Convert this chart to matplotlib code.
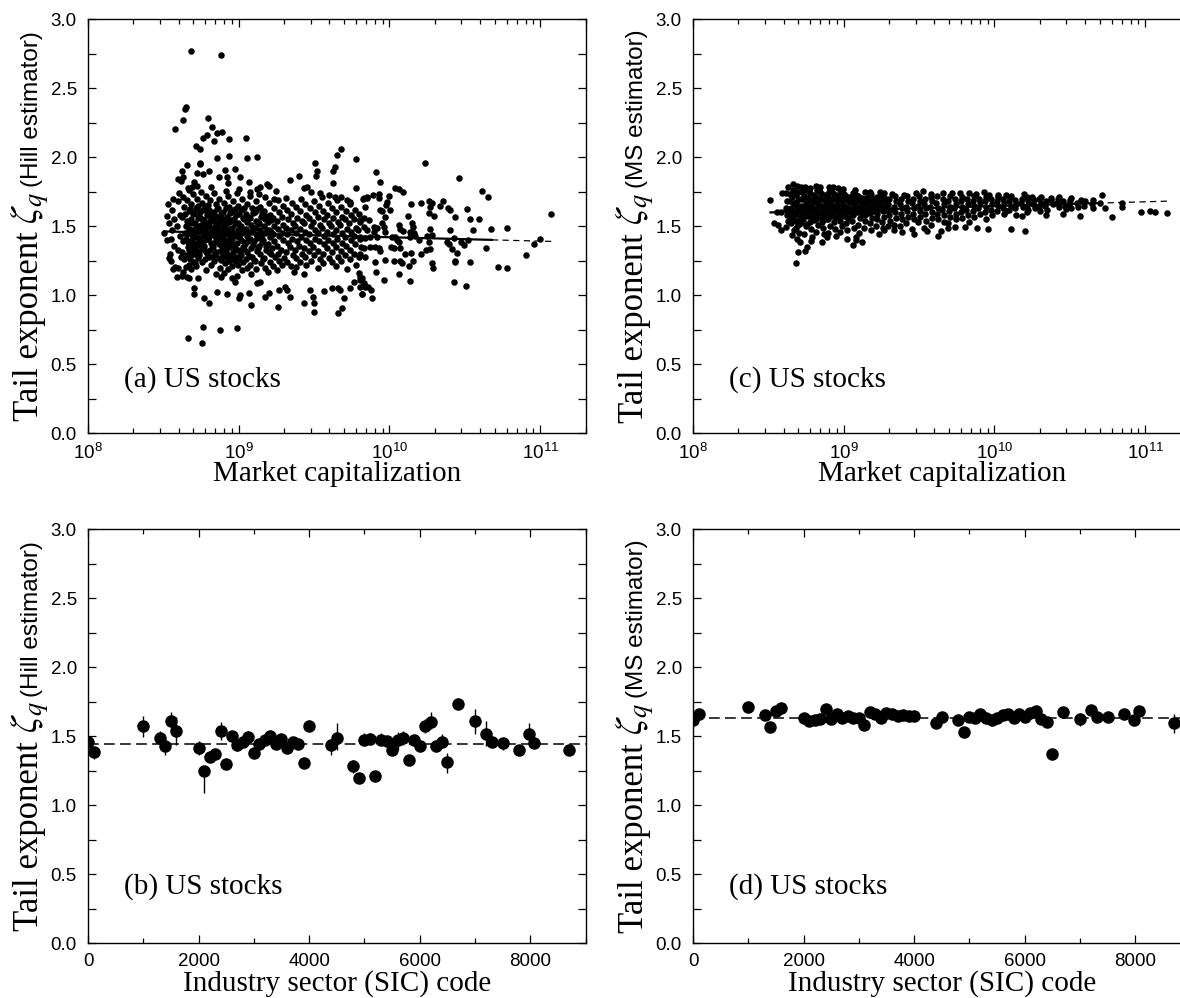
import matplotlib
matplotlib.use('Agg')
import matplotlib.pyplot as plt
import numpy as np
from matplotlib.ticker import MultipleLocator, LogLocator, NullFormatter, FormatStrFormatter

plt.rcParams['font.family'] = ['Liberation Sans', 'DejaVu Sans']
plt.rcParams['mathtext.fontset'] = 'stix'

# ---------------- data ----------------
# (a) Hill tail exponent per stock, x given as log10(market capitalization)
log_cap_hill = [
    # sparse upper points
    8.682, 8.883, 8.649, 8.642, 8.627, 8.578, 8.797, 8.824, 8.766, 8.788,
    8.839, 8.855, 8.888, 8.937, 9.049, 8.717, 8.740, 8.857, 8.934, 9.054,
    9.120, 8.740, 8.744, 8.660, 8.622, 8.600, 8.616, 8.633, 8.722, 8.766,
    8.800, 8.866, 8.910, 8.921, 8.972, 8.932, 9.010, 8.999, 9.067, 8.700,
    8.693, 8.722, 8.673, 8.815, 8.917, 9.076, 9.120, 9.142, 9.136, 9.187,
    9.204, 9.249, 9.235, 9.315, 9.341, 9.401, 9.430, 9.452, 9.479, 9.508,
    9.519, 9.514, 9.627, 9.636, 9.649, 9.680, 9.625, 9.541, 9.552, 9.600,
    9.640, 9.678, 9.718, 9.780, 9.778, 9.740, 9.829, 9.851, 8.523, 8.507,
    # sparse lower points
    8.549, 8.578, 8.589, 8.622, 8.649, 8.655, 8.673, 8.733, 8.706, 8.706,
    8.770, 8.801, 8.855, 8.921, 8.881, 8.954, 8.976, 9.010, 9.005, 9.069,
    9.083, 9.120, 9.142, 9.176, 9.198, 9.264, 9.260, 9.308, 9.319, 9.341,
    9.368, 9.381, 9.434, 9.430, 9.474, 9.490, 9.501, 9.497, 9.563, 9.618,
    9.656, 9.669, 9.656, 9.685, 9.696, 9.740, 9.766, 9.795, 9.806, 9.817,
    9.829, 9.855, 8.762, 8.879, 8.987, 8.666, 8.755,
    # large caps
    10.233, 10.461, 9.910, 9.937, 10.616, 10.651, 10.038, 10.065, 10.092, 9.890,
    9.928, 9.928, 9.850, 9.824, 10.000, 9.983, 9.979, 10.142, 10.209, 10.260,
    10.282, 10.271, 10.333, 10.353, 10.388, 10.399, 10.514, 9.841, 9.939, 9.950,
    9.972, 10.001, 10.122, 10.264, 10.297, 10.437, 10.536, 10.592, 9.833, 9.806,
    9.866, 9.828, 9.895, 9.917, 9.950, 9.961, 10.061, 10.072, 10.090, 10.149,
    10.156, 10.138, 10.160, 10.271, 10.404, 10.554, 10.674, 10.780, 9.850, 9.895,
    9.972, 9.872, 9.917, 9.806, 9.839, 10.016, 10.038, 10.049, 10.065, 10.134,
    10.171, 10.193, 10.249, 10.284, 10.260, 10.381, 10.393, 10.430, 10.477, 10.492,
    10.519, 11.001, 10.961, 10.908, 10.640, 9.828, 9.872, 9.906, 9.934, 9.939,
    9.806, 9.839, 10.010, 10.032, 10.072, 10.105, 10.142, 10.209, 10.244, 10.266,
    10.415, 10.448, 9.906, 9.968, 10.027, 10.072, 10.085, 10.127, 10.156, 10.282,
    10.288, 10.432, 10.437, 10.532, 10.720, 10.782, 9.910, 10.061, 10.138, 9.965,
    10.430, 10.510, 9.806, 9.817, 9.828, 9.806, 9.839, 9.879, 9.817, 9.886, 11.074,
    # dense core
    8.531, 8.538, 8.527, 8.542, 8.534,
    8.562, 8.555, 8.568, 8.559, 8.571, 8.553, 8.565,
    8.603, 8.596, 8.611, 8.592, 8.607, 8.599, 8.614, 8.594,
    8.628, 8.636, 8.624, 8.641, 8.632, 8.626, 8.639, 8.631,
    8.662, 8.655, 8.668, 8.659, 8.671, 8.653, 8.664, 8.657, 8.669,
    8.694, 8.686, 8.699, 8.683, 8.691, 8.697, 8.688, 8.702, 8.685,
    8.721, 8.714, 8.727, 8.718, 8.731, 8.712, 8.724, 8.716, 8.729, 8.719,
    8.748, 8.756, 8.743, 8.759, 8.751, 8.741, 8.762, 8.746, 8.754, 8.739, 8.758,
    8.781, 8.774, 8.787, 8.772, 8.784, 8.777, 8.789, 8.771, 8.783, 8.776, 8.786,
    8.812, 8.804, 8.817, 8.808, 8.802, 8.815, 8.806, 8.819, 8.809, 8.801, 8.814,
    8.838, 8.846, 8.834, 8.843, 8.849, 8.836, 8.841, 8.847, 8.832, 8.844, 8.839, 8.848,
    8.872, 8.865, 8.877, 8.868, 8.874, 8.863, 8.879, 8.869, 8.876, 8.866, 8.873,
    8.903, 8.896, 8.908, 8.899, 8.905, 8.894, 8.909, 8.901, 8.897, 8.906, 8.902,
    8.928, 8.936, 8.924, 8.933, 8.939, 8.926, 8.931, 8.937, 8.925, 8.934, 8.929,
    8.962, 8.955, 8.967, 8.958, 8.964, 8.953, 8.968, 8.959, 8.965, 8.956,
    8.988, 8.996, 8.984, 8.993, 8.998, 8.986, 8.991, 8.997, 8.983, 8.994, 8.989,
    9.021, 9.014, 9.027, 9.018, 9.024, 9.013, 9.028, 9.016, 9.025, 9.019,
    9.052, 9.045, 9.057, 9.048, 9.054, 9.043, 9.058, 9.046, 9.055,
    9.078, 9.086, 9.074, 9.083, 9.088, 9.076, 9.081, 9.087, 9.073, 9.084,
    9.112, 9.105, 9.117, 9.108, 9.114, 9.103, 9.118, 9.107, 9.115,
    9.138, 9.146, 9.134, 9.143, 9.148, 9.136, 9.141, 9.147,
    9.172, 9.165, 9.177, 9.168, 9.174, 9.163, 9.178, 9.166, 9.175,
    9.198, 9.206, 9.194, 9.203, 9.208, 9.196, 9.201, 9.207, 9.193,
    9.232, 9.225, 9.237, 9.228, 9.234, 9.223, 9.238, 9.226,
    9.258, 9.266, 9.254, 9.263, 9.268, 9.256, 9.261, 9.267, 9.253,
    9.292, 9.285, 9.297, 9.288, 9.294, 9.283, 9.298, 9.286,
    9.318, 9.326, 9.314, 9.323, 9.328, 9.316, 9.321,
    9.352, 9.345, 9.357, 9.348, 9.354, 9.343, 9.358, 9.346,
    9.378, 9.386, 9.374, 9.383, 9.388, 9.376, 9.381,
    9.412, 9.405, 9.417, 9.408, 9.414, 9.403, 9.418, 9.406,
    9.438, 9.446, 9.434, 9.443, 9.448, 9.436, 9.441, 9.447,
    9.472, 9.465, 9.477, 9.468, 9.474, 9.463, 9.478,
    9.498, 9.506, 9.494, 9.503, 9.508, 9.496, 9.501,
    9.532, 9.525, 9.537, 9.528, 9.534, 9.523, 9.538, 9.526,
    9.558, 9.566, 9.554, 9.563, 9.568, 9.556, 9.561,
    9.592, 9.585, 9.597, 9.588, 9.594, 9.583, 9.598,
    9.618, 9.626, 9.614, 9.623, 9.628, 9.616, 9.621,
    9.652, 9.645, 9.657, 9.648, 9.654, 9.643, 9.658, 9.646,
    9.678, 9.686, 9.674, 9.683, 9.688, 9.676, 9.681,
    9.712, 9.705, 9.717, 9.708, 9.714, 9.703, 9.718,
    9.738, 9.746, 9.734, 9.743, 9.748, 9.736, 9.741,
    9.772, 9.765, 9.777, 9.768, 9.774, 9.763, 9.778,
    9.798, 9.806, 9.794, 9.803, 9.808, 9.796,
    # densest part, in between the rows above
    8.646, 8.651, 8.658, 8.663, 8.667,
    8.677, 8.681, 8.689, 8.692, 8.696, 8.679,
    8.706, 8.709, 8.713, 8.717, 8.704, 8.711,
    8.733, 8.737, 8.744, 8.736, 8.747, 8.734,
    8.764, 8.768, 8.761, 8.767, 8.763, 8.769,
    8.793, 8.796, 8.791, 8.798, 8.794, 8.792,
    8.823, 8.826, 8.828, 8.822, 8.825, 8.829,
    8.853, 8.857, 8.859, 8.854, 8.856, 8.851,
    8.883, 8.886, 8.888, 8.884, 8.887, 8.882,
    8.914, 8.917, 8.912, 8.916, 8.918, 8.913,
    8.944, 8.947, 8.942, 8.948, 8.945,
    8.973, 8.977, 8.972, 8.978, 8.975,
    9.004, 9.007, 9.003, 9.008, 9.005,
    9.034, 9.036, 9.033, 9.038, 9.035,
    9.064, 9.067, 9.063, 9.068,
    9.094, 9.097, 9.093, 9.098,
    9.124, 9.127, 9.123, 9.128,
    9.154, 9.157, 9.153, 9.158,
    9.184, 9.187, 9.183,
    9.214, 9.217, 9.213,
]
zeta_hill = [
    2.772, 2.739, 2.361, 2.347, 2.270, 2.204, 2.282, 2.217, 2.142, 2.161,
    2.117, 2.173, 2.185, 2.129, 2.139, 2.081, 2.059, 1.992, 2.011, 1.994,
    1.999, 1.960, 1.948, 1.941, 1.897, 1.842, 1.825, 1.859, 1.888, 1.876,
    1.902, 1.854, 1.907, 1.859, 1.912, 1.810, 1.859, 1.767, 1.818, 1.823,
    1.786, 1.793, 1.762, 1.781, 1.757, 1.750, 1.769, 1.786, 1.733, 1.806,
    1.793, 1.755, 1.699, 1.704, 1.835, 1.864, 1.777, 1.786, 1.745, 1.960,
    1.900, 1.866, 1.900, 1.927, 2.016, 2.062, 1.815, 1.738, 1.714, 1.726,
    1.714, 1.714, 1.690, 1.989, 1.774, 1.677, 1.702, 1.714, 1.573, 1.453,
    1.407, 1.206, 1.129, 1.139, 1.201, 1.134, 1.122, 1.122, 1.054, 1.008,
    0.981, 0.945, 1.025, 1.005, 1.134, 1.122, 1.097, 1.001, 0.976, 1.013,
    0.930, 1.085, 1.097, 0.989, 1.013, 1.037, 0.911, 1.061, 1.037, 0.989,
    1.170, 1.206, 1.153, 0.940, 1.037, 0.989, 0.945, 0.875, 1.032, 1.054,
    1.054, 1.037, 0.868, 0.904, 0.976, 1.049, 1.093, 1.158, 1.110, 1.005,
    1.073, 1.061, 0.768, 0.747, 0.764, 0.689, 0.655,
    1.956, 1.852, 1.890, 1.818, 1.753, 1.709, 1.777, 1.770, 1.745, 1.724,
    1.731, 1.702, 1.704, 1.695, 1.719, 1.678, 1.653, 1.661, 1.668, 1.680,
    1.670, 1.637, 1.644, 1.682, 1.629, 1.617, 1.622, 1.641, 1.615, 1.610,
    1.569, 1.617, 1.576, 1.595, 1.571, 1.564, 1.554, 1.549, 1.562, 1.545,
    1.545, 1.496, 1.496, 1.484, 1.520, 1.496, 1.511, 1.479, 1.465, 1.520,
    1.496, 1.460, 1.448, 1.477, 1.474, 1.474, 1.479, 1.484, 1.472, 1.460,
    1.455, 1.424, 1.419, 1.419, 1.412, 1.419, 1.419, 1.400, 1.383, 1.419,
    1.429, 1.400, 1.429, 1.436, 1.387, 1.387, 1.368, 1.417, 1.387, 1.363,
    1.397, 1.404, 1.368, 1.291, 1.339, 1.339, 1.346, 1.346, 1.339, 1.322,
    1.298, 1.279, 1.351, 1.344, 1.339, 1.298, 1.305, 1.296, 1.327, 1.337,
    1.334, 1.303, 1.242, 1.255, 1.247, 1.245, 1.235, 1.213, 1.247, 1.230,
    1.199, 1.250, 1.240, 1.242, 1.204, 1.197, 1.168, 1.151, 1.105, 1.112,
    1.097, 1.066, 1.134, 1.122, 1.085, 1.061, 1.061, 1.037, 1.006, 0.981, 1.590,
    1.66, 1.52, 1.40, 1.30, 1.27,
    1.70, 1.62, 1.55, 1.47, 1.36, 1.25, 1.19,
    1.74, 1.68, 1.58, 1.50, 1.43, 1.33, 1.28, 1.20,
    1.71, 1.64, 1.57, 1.45, 1.39, 1.31, 1.26, 1.17,
    1.78, 1.69, 1.61, 1.54, 1.48, 1.41, 1.35, 1.29, 1.22,
    1.73, 1.66, 1.59, 1.52, 1.44, 1.37, 1.30, 1.24, 1.19,
    1.70, 1.63, 1.56, 1.50, 1.46, 1.42, 1.38, 1.33, 1.27, 1.21,
    1.75, 1.67, 1.60, 1.55, 1.51, 1.47, 1.43, 1.39, 1.34, 1.29, 1.24,
    1.72, 1.64, 1.58, 1.53, 1.49, 1.45, 1.41, 1.36, 1.31, 1.26, 1.18,
    1.69, 1.62, 1.57, 1.54, 1.50, 1.46, 1.42, 1.38, 1.33, 1.28, 1.22,
    1.74, 1.66, 1.59, 1.55, 1.51, 1.47, 1.43, 1.40, 1.35, 1.30, 1.25, 1.15,
    1.70, 1.63, 1.56, 1.52, 1.48, 1.44, 1.40, 1.37, 1.32, 1.27, 1.20,
    1.67, 1.60, 1.55, 1.50, 1.46, 1.42, 1.38, 1.34, 1.29, 1.23, 1.16,
    1.72, 1.64, 1.57, 1.53, 1.48, 1.44, 1.39, 1.35, 1.30, 1.25, 1.19,
    1.68, 1.61, 1.55, 1.49, 1.45, 1.41, 1.36, 1.31, 1.26, 1.21,
    1.74, 1.65, 1.58, 1.52, 1.47, 1.43, 1.38, 1.33, 1.28, 1.22, 1.14,
    1.70, 1.62, 1.56, 1.50, 1.45, 1.40, 1.35, 1.29, 1.24, 1.18,
    1.66, 1.59, 1.53, 1.48, 1.43, 1.37, 1.31, 1.26, 1.20,
    1.72, 1.63, 1.56, 1.51, 1.46, 1.41, 1.34, 1.28, 1.22, 1.15,
    1.68, 1.60, 1.54, 1.49, 1.44, 1.39, 1.32, 1.25, 1.19,
    1.64, 1.57, 1.52, 1.47, 1.42, 1.36, 1.30, 1.23,
    1.71, 1.61, 1.55, 1.50, 1.45, 1.40, 1.33, 1.27, 1.20,
    1.67, 1.58, 1.53, 1.47, 1.42, 1.37, 1.31, 1.24, 1.17,
    1.63, 1.56, 1.50, 1.44, 1.39, 1.34, 1.28, 1.21,
    1.69, 1.60, 1.54, 1.48, 1.43, 1.36, 1.30, 1.25, 1.18,
    1.65, 1.57, 1.51, 1.45, 1.40, 1.33, 1.27, 1.22,
    1.62, 1.55, 1.49, 1.44, 1.38, 1.31, 1.24,
    1.67, 1.59, 1.52, 1.47, 1.41, 1.35, 1.29, 1.21,
    1.64, 1.56, 1.50, 1.45, 1.39, 1.33, 1.27,
    1.70, 1.61, 1.54, 1.48, 1.42, 1.36, 1.30, 1.24,
    1.66, 1.58, 1.52, 1.46, 1.40, 1.34, 1.28, 1.22,
    1.63, 1.56, 1.50, 1.44, 1.38, 1.32, 1.25,
    1.68, 1.60, 1.53, 1.47, 1.41, 1.35, 1.29,
    1.65, 1.57, 1.51, 1.45, 1.39, 1.32, 1.26, 1.20,
    1.61, 1.55, 1.49, 1.43, 1.37, 1.30, 1.23,
    1.67, 1.58, 1.52, 1.46, 1.40, 1.34, 1.27,
    1.63, 1.56, 1.50, 1.44, 1.38, 1.31, 1.24,
    1.69, 1.60, 1.53, 1.47, 1.41, 1.35, 1.28, 1.21,
    1.64, 1.57, 1.51, 1.45, 1.38, 1.32, 1.25,
    1.61, 1.55, 1.48, 1.42, 1.36, 1.29, 1.19,
    1.66, 1.58, 1.52, 1.46, 1.40, 1.33, 1.26,
    1.62, 1.55, 1.49, 1.43, 1.37, 1.30, 1.22,
    1.59, 1.53, 1.47, 1.41, 1.35, 1.28,
    1.585, 1.505, 1.445, 1.385, 1.325,
    1.625, 1.555, 1.475, 1.405, 1.335, 1.265,
    1.595, 1.525, 1.475, 1.355, 1.295, 1.235,
    1.645, 1.575, 1.485, 1.415, 1.365, 1.315,
    1.615, 1.545, 1.465, 1.435, 1.385, 1.335,
    1.655, 1.595, 1.515, 1.445, 1.405, 1.305,
    1.605, 1.535, 1.485, 1.445, 1.365, 1.285,
    1.625, 1.565, 1.495, 1.455, 1.385, 1.315,
    1.585, 1.535, 1.465, 1.415, 1.355, 1.255,
    1.635, 1.515, 1.475, 1.395, 1.325, 1.275,
    1.595, 1.545, 1.425, 1.375, 1.285,
    1.625, 1.515, 1.435, 1.345, 1.245,
    1.585, 1.485, 1.425, 1.315, 1.265,
    1.635, 1.555, 1.465, 1.385, 1.335,
    1.565, 1.455, 1.395, 1.285,
    1.595, 1.485, 1.365, 1.255,
    1.625, 1.515, 1.415, 1.345,
    1.595, 1.445, 1.385, 1.265,
    1.575, 1.475, 1.355,
    1.545, 1.455, 1.295,
]

# (c) MS tail exponent per stock
log_cap_ms = [
    # edges and outliers
    8.514, 8.537, 8.564, 8.557, 8.587, 8.591, 8.616, 8.632, 8.661, 8.689,
    8.716, 8.745, 8.779, 8.817, 8.842, 8.903, 8.926, 8.960, 8.994, 9.078,
    9.141, 9.175, 9.243, 9.265, 9.322, 9.401, 9.480, 9.525, 9.582, 9.661,
    9.718, 9.774, 9.831, 9.876, 9.932, 9.966, 10.023, 10.079, 10.113, 10.193,
    10.249, 10.306, 10.373, 10.430, 10.509, 10.577, 10.656, 10.713, 10.735, 10.780,
    10.844, 10.848, 10.973, 11.029, 11.068, 11.147, 8.587, 8.655, 8.689, 8.711,
    8.756, 8.695, 8.745, 8.682, 8.786, 8.858, 8.892, 8.949, 9.021, 9.062,
    9.080, 9.118, 9.084, 9.231, 9.265, 9.333, 9.390, 9.464, 9.552, 9.627,
    9.645, 9.695, 9.740, 9.808, 9.887, 9.955, 10.107, 10.204, 10.181, 10.339,
    10.452, 10.565, 10.475, 10.215, 10.080,
    # dense core
    8.618, 8.626, 8.614, 8.623, 8.628,
    8.662, 8.655, 8.667, 8.658, 8.664, 8.653, 8.668,
    8.698, 8.706, 8.694, 8.703, 8.708, 8.696, 8.701,
    8.742, 8.735, 8.747, 8.738, 8.744, 8.733, 8.748, 8.736,
    8.778, 8.786, 8.774, 8.783, 8.788, 8.776, 8.781, 8.787,
    8.822, 8.815, 8.827, 8.818, 8.824, 8.813, 8.828, 8.816,
    8.858, 8.866, 8.854, 8.863, 8.868, 8.856, 8.861, 8.867,
    8.902, 8.895, 8.907, 8.898, 8.904, 8.893, 8.908, 8.896,
    8.938, 8.946, 8.934, 8.943, 8.948, 8.936, 8.941,
    8.982, 8.975, 8.987, 8.978, 8.984, 8.973, 8.988, 8.976,
    9.018, 9.026, 9.014, 9.023, 9.028, 9.016, 9.021,
    9.062, 9.055, 9.067, 9.058, 9.064, 9.053, 9.068,
    9.098, 9.106, 9.094, 9.103, 9.108, 9.096, 9.101,
    9.142, 9.135, 9.147, 9.138, 9.144, 9.133,
    9.178, 9.186, 9.174, 9.183, 9.188, 9.176, 9.181,
    9.222, 9.215, 9.227, 9.218, 9.224, 9.213,
    9.258, 9.266, 9.254, 9.263, 9.268, 9.256, 9.261,
    9.302, 9.295, 9.307, 9.298, 9.304, 9.293,
    9.338, 9.346, 9.334, 9.343, 9.348, 9.336,
    9.382, 9.375, 9.387, 9.378, 9.384, 9.373,
    9.418, 9.426, 9.414, 9.423, 9.428, 9.416,
    9.462, 9.455, 9.467, 9.458, 9.464, 9.453,
    9.498, 9.506, 9.494, 9.503, 9.508, 9.496,
    9.542, 9.535, 9.547, 9.538, 9.544, 9.533,
    9.578, 9.586, 9.574, 9.583, 9.588, 9.576,
    9.622, 9.615, 9.627, 9.618, 9.624,
    9.658, 9.666, 9.654, 9.663, 9.668,
    9.702, 9.695, 9.707, 9.698, 9.704, 9.693,
    9.738, 9.746, 9.734, 9.743, 9.748,
    9.782, 9.775, 9.787, 9.778, 9.784,
    9.818, 9.826, 9.814, 9.823, 9.828,
    9.862, 9.855, 9.867, 9.858, 9.864,
    9.898, 9.906, 9.894, 9.903,
    9.942, 9.935, 9.947, 9.938, 9.944,
    9.978, 9.986, 9.974, 9.983,
    10.022, 10.015, 10.027, 10.018,
    10.058, 10.066, 10.054, 10.063,
    10.102, 10.095, 10.107, 10.098,
    10.138, 10.146, 10.134, 10.143,
    10.182, 10.175, 10.187,
    10.218, 10.226, 10.214, 10.223,
    10.262, 10.255, 10.267,
    10.298, 10.306, 10.294, 10.303,
    10.342, 10.335, 10.347,
    10.378, 10.386,
    10.422, 10.415, 10.427,
    10.458, 10.466,
    10.502, 10.495, 10.507,
    10.548, 10.556,
    10.602, 10.595,
    10.648, 10.656,
    10.702,
    # densest part, in between the rows above
    8.641, 8.645, 8.648, 8.643, 8.646,
    8.681, 8.684, 8.687, 8.683, 8.686, 8.682,
    8.721, 8.724, 8.718, 8.726, 8.722, 8.719,
    8.761, 8.764, 8.758, 8.766, 8.762, 8.759,
    8.801, 8.804, 8.798, 8.806, 8.802,
    8.841, 8.844, 8.838, 8.846, 8.842,
    8.881, 8.884, 8.878, 8.886, 8.882,
    8.921, 8.924, 8.918, 8.926, 8.922,
    8.961, 8.964, 8.958, 8.966, 8.962,
    9.001, 9.004, 8.998, 9.006, 9.002,
    9.041, 9.044, 9.038, 9.046,
    9.081, 9.084, 9.078, 9.086,
    9.121, 9.124, 9.118, 9.126,
    9.161, 9.164, 9.158, 9.166,
    9.201, 9.204, 9.198,
    9.241, 9.244, 9.238,
    9.281, 9.284, 9.278,
]
zeta_ms = [
    1.690, 1.521, 1.508, 1.600, 1.605, 1.738, 1.491, 1.786, 1.806, 1.794,
    1.786, 1.782, 1.774, 1.794, 1.782, 1.786, 1.782, 1.774, 1.769, 1.762,
    1.745, 1.750, 1.745, 1.738, 1.733, 1.728, 1.743, 1.755, 1.733, 1.738,
    1.743, 1.738, 1.743, 1.733, 1.745, 1.726, 1.726, 1.728, 1.719, 1.733,
    1.714, 1.709, 1.702, 1.709, 1.702, 1.690, 1.690, 1.724, 1.634, 1.564,
    1.670, 1.637, 1.605, 1.612, 1.600, 1.595, 1.472, 1.436, 1.405, 1.388,
    1.351, 1.315, 1.322, 1.230, 1.392, 1.388, 1.419, 1.429, 1.405, 1.363,
    1.424, 1.383, 1.400, 1.441, 1.472, 1.472, 1.460, 1.441, 1.465, 1.429,
    1.465, 1.484, 1.496, 1.496, 1.484, 1.477, 1.482, 1.465, 1.574, 1.583,
    1.588, 1.576, 1.622, 1.600, 1.610,
    1.74, 1.68, 1.63, 1.58, 1.54,
    1.76, 1.71, 1.66, 1.61, 1.57, 1.52, 1.47,
    1.75, 1.70, 1.65, 1.60, 1.56, 1.51, 1.45,
    1.77, 1.72, 1.67, 1.63, 1.59, 1.55, 1.50, 1.44,
    1.74, 1.69, 1.65, 1.61, 1.57, 1.53, 1.48, 1.42,
    1.76, 1.71, 1.67, 1.63, 1.59, 1.55, 1.51, 1.46,
    1.73, 1.69, 1.65, 1.61, 1.57, 1.53, 1.49, 1.44,
    1.75, 1.71, 1.67, 1.63, 1.59, 1.55, 1.50, 1.45,
    1.73, 1.69, 1.65, 1.61, 1.57, 1.53, 1.48,
    1.75, 1.70, 1.66, 1.62, 1.58, 1.54, 1.50, 1.46,
    1.72, 1.68, 1.64, 1.60, 1.56, 1.52, 1.47,
    1.74, 1.70, 1.66, 1.62, 1.58, 1.54, 1.49,
    1.72, 1.68, 1.64, 1.60, 1.56, 1.51, 1.45,
    1.70, 1.66, 1.62, 1.58, 1.54, 1.49,
    1.73, 1.68, 1.64, 1.60, 1.56, 1.52, 1.47,
    1.71, 1.67, 1.63, 1.59, 1.55, 1.50,
    1.72, 1.68, 1.64, 1.61, 1.57, 1.53, 1.49,
    1.70, 1.66, 1.62, 1.58, 1.54, 1.50,
    1.72, 1.68, 1.64, 1.60, 1.56, 1.51,
    1.70, 1.66, 1.63, 1.59, 1.55, 1.50,
    1.72, 1.68, 1.64, 1.61, 1.57, 1.52,
    1.70, 1.67, 1.63, 1.59, 1.55, 1.48,
    1.72, 1.68, 1.65, 1.61, 1.57, 1.53,
    1.70, 1.66, 1.63, 1.59, 1.54, 1.49,
    1.71, 1.68, 1.64, 1.60, 1.56, 1.51,
    1.72, 1.67, 1.63, 1.59, 1.55,
    1.70, 1.66, 1.62, 1.58, 1.53,
    1.72, 1.68, 1.64, 1.61, 1.57, 1.52,
    1.70, 1.66, 1.63, 1.59, 1.55,
    1.71, 1.68, 1.64, 1.60, 1.56,
    1.70, 1.66, 1.62, 1.58, 1.53,
    1.72, 1.68, 1.65, 1.61, 1.57,
    1.70, 1.67, 1.63, 1.59,
    1.71, 1.68, 1.64, 1.60, 1.55,
    1.70, 1.66, 1.62, 1.58,
    1.71, 1.68, 1.65, 1.61,
    1.70, 1.67, 1.63, 1.59,
    1.71, 1.68, 1.65, 1.62,
    1.69, 1.66, 1.63, 1.58,
    1.70, 1.67, 1.64,
    1.71, 1.68, 1.65, 1.62,
    1.69, 1.66, 1.63,
    1.70, 1.67, 1.64, 1.61,
    1.68, 1.65, 1.62,
    1.69, 1.66,
    1.70, 1.67, 1.64,
    1.68, 1.65,
    1.69, 1.66, 1.63,
    1.67, 1.64,
    1.68, 1.65,
    1.66, 1.63,
    1.67,
    1.735, 1.685, 1.635, 1.585, 1.545,
    1.725, 1.675, 1.625, 1.585, 1.535, 1.485,
    1.745, 1.695, 1.645, 1.605, 1.565, 1.525,
    1.755, 1.705, 1.655, 1.615, 1.575, 1.515,
    1.725, 1.675, 1.635, 1.595, 1.545,
    1.745, 1.695, 1.645, 1.605, 1.565,
    1.725, 1.685, 1.645, 1.595, 1.555,
    1.745, 1.695, 1.655, 1.615, 1.575,
    1.725, 1.685, 1.645, 1.605, 1.565,
    1.735, 1.695, 1.655, 1.615, 1.575,
    1.715, 1.675, 1.635, 1.595,
    1.725, 1.685, 1.645, 1.605,
    1.705, 1.665, 1.625, 1.585,
    1.715, 1.675, 1.635, 1.595,
    1.695, 1.655, 1.615,
    1.705, 1.665, 1.625,
    1.695, 1.655, 1.615,
]

# regression lines: zeta = intercept + slope * log10(cap)
hill_fit = (1.702, -0.0282)
ms_fit = (1.336, 0.031)
fit_solid_end = 10.68      # log10(cap) where solid part turns dashed

# (b), (d) sector averages
sic_codes = [0, 100, 1000, 1300, 1400, 1500, 1600, 2000, 2100, 2200,
             2300, 2400, 2500, 2600, 2700, 2800, 2900, 3000, 3100, 3200,
             3300, 3400, 3500, 3600, 3700, 3800, 3900, 4000, 4400, 4500,
             4800, 4900, 5000, 5100, 5200, 5300, 5400, 5500, 5600, 5700,
             5800, 5900, 6000, 6100, 6200, 6300, 6400, 6500, 6700, 7000,
             7200, 7300, 7500, 7800, 7980, 8060, 8700]
hill_sector = [1.454, 1.382, 1.575, 1.483, 1.430, 1.606, 1.536, 1.413, 1.244, 1.345,
               1.370, 1.534, 1.297, 1.498, 1.432, 1.457, 1.495, 1.377, 1.442, 1.473,
               1.502, 1.444, 1.478, 1.413, 1.457, 1.442, 1.304, 1.575, 1.432, 1.486,
               1.285, 1.193, 1.473, 1.481, 1.213, 1.473, 1.461, 1.401, 1.469, 1.483,
               1.324, 1.469, 1.425, 1.575, 1.601, 1.425, 1.454, 1.309, 1.734, 1.606,
               1.517, 1.454, 1.449, 1.396, 1.512, 1.449, 1.401]
hill_err_lo = [0.03, 0.05, 0.08, 0.04, 0.07, 0.07, 0.10, 0.05, 0.16, 0.03,
               0.04, 0.06, 0.02, 0.03, 0.04, 0.03, 0.04, 0.03, 0.04, 0.04,
               0.04, 0.03, 0.03, 0.03, 0.03, 0.03, 0.03, 0.04, 0.07, 0.09,
               0.05, 0.02, 0.04, 0.04, 0.04, 0.04, 0.03, 0.02, 0.07, 0.05,
               0.03, 0.03, 0.03, 0.05, 0.05, 0.03, 0.04, 0.08, 0.04, 0.09,
               0.09, 0.03, 0.05, 0.03, 0.05, 0.03, 0.03]
hill_err_hi = [0.03, 0.03, 0.07, 0.05, 0.04, 0.07, 0.10, 0.05, 0.04, 0.03,
               0.03, 0.07, 0.02, 0.03, 0.03, 0.03, 0.04, 0.03, 0.04, 0.04,
               0.04, 0.03, 0.03, 0.03, 0.03, 0.03, 0.03, 0.04, 0.05, 0.11,
               0.04, 0.02, 0.05, 0.04, 0.03, 0.05, 0.03, 0.02, 0.06, 0.05,
               0.03, 0.03, 0.03, 0.05, 0.07, 0.03, 0.06, 0.07, 0.04, 0.09,
               0.09, 0.03, 0.04, 0.03, 0.08, 0.03, 0.03]
ms_sector = [1.616, 1.657, 1.712, 1.649, 1.565, 1.678, 1.700, 1.632, 1.608, 1.616,
             1.625, 1.693, 1.625, 1.661, 1.632, 1.645, 1.628, 1.630, 1.579, 1.676,
             1.657, 1.632, 1.669, 1.657, 1.645, 1.652, 1.645, 1.645, 1.596, 1.640,
             1.616, 1.531, 1.640, 1.632, 1.657, 1.632, 1.616, 1.628, 1.649, 1.657,
             1.628, 1.657, 1.640, 1.669, 1.681, 1.620, 1.601, 1.367, 1.673, 1.620,
             1.688, 1.640, 1.640, 1.657, 1.616, 1.681, 1.592]
ms_err = [0.015, 0.02, 0.02, 0.02, 0.03, 0.03, 0.02, 0.02, 0.02, 0.015,
          0.015, 0.02, 0.015, 0.015, 0.015, 0.015, 0.015, 0.015, 0.03, 0.015,
          0.015, 0.015, 0.015, 0.015, 0.015, 0.015, 0.015, 0.015, 0.02, 0.02,
          0.02, 0.02, 0.015, 0.015, 0.015, 0.015, 0.015, 0.015, 0.015, 0.015,
          0.015, 0.015, 0.015, 0.015, 0.02, 0.02, 0.03, 0.03, 0.035, 0.045,
          0.02, 0.015, 0.015, 0.015, 0.02, 0.015, 0.07]
hill_mean = 1.445
ms_mean = 1.628

SERIF = 'Liberation Serif'
SANS = 'Liberation Sans'

fig = plt.figure(figsize=(11.8, 9.98), dpi=100)
ax_a = fig.add_axes([0.0746, 0.5661, 0.4216, 0.4145])
ax_c = fig.add_axes([0.5873, 0.5661, 0.4216, 0.4145])
ax_b = fig.add_axes([0.0746, 0.0551, 0.4216, 0.4148])
ax_d = fig.add_axes([0.5873, 0.0551, 0.4216, 0.4148])


def style(ax):
    ax.set_ylim(0, 3.0)
    ax.yaxis.set_major_locator(MultipleLocator(0.5))
    ax.yaxis.set_minor_locator(MultipleLocator(0.25))
    ax.yaxis.set_major_formatter(FormatStrFormatter('%.1f'))
    ax.tick_params(which='both', direction='in', top=True, right=True,
                   width=0.9, labelsize=13.5, colors='black')
    ax.tick_params(which='major', length=6)
    ax.tick_params(which='minor', length=3.5)
    ax.tick_params(axis='y', which='minor', length=6)
    ax.tick_params(axis='y', pad=8)
    ax.tick_params(axis='x', pad=7)
    for sp in ax.spines.values():
        sp.set_linewidth(1.0)


def tail_label(ax, name):
    r = fig.canvas.get_renderer()
    x = -0.1005
    parts = [('Tail exponent', dict(family=SERIF, fontsize=25)),
             (r'$\zeta_q$', dict(fontsize=27)),
             ('(' + name + ' estimator)', dict(family=SANS, fontsize=17.5))]
    gaps = [8, 5, 0]
    texts = [ax.text(x, 0, s, transform=ax.transAxes, rotation=90,
                     rotation_mode='anchor', ha='left', va='baseline', **kw)
             for s, kw in parts]
    lengths = [t.get_window_extent(r).height for t in texts]
    H = ax.get_window_extent(r).height
    total = sum(lengths) + sum(gaps)
    y = 0.5 - total / H / 2
    for t, L, g in zip(texts, lengths, gaps):
        t.set_position((x, y))
        y += (L + g) / H


def log_panel(ax, log_cap, zeta, fit, tag, name):
    log_cap = np.array(log_cap)
    ax.scatter(10 ** log_cap, zeta, s=22, c='black', linewidths=0, zorder=2)
    a, b = fit
    xs = np.linspace(log_cap.min(), fit_solid_end, 50)
    ax.plot(10 ** xs, a + b * xs, color='black', lw=1.6, zorder=3)
    xd = np.linspace(fit_solid_end, log_cap.max(), 20)
    ax.plot(10 ** xd, a + b * xd, color='black', lw=0.9, dashes=(5, 3.5), zorder=3)
    ax.set_xscale('log')
    ax.set_xlim(1e8, 2e11)
    ax.xaxis.set_major_locator(LogLocator(base=10, numticks=10))
    ax.xaxis.set_minor_locator(LogLocator(base=10, subs=np.arange(2, 10), numticks=30))
    ax.xaxis.set_minor_formatter(NullFormatter())
    style(ax)
    ax.set_xlabel('Market capitalization', family=SERIF, fontsize=21, labelpad=-1)
    ax.text(0.072, 0.113, tag + ' US stocks', transform=ax.transAxes,
            family=SERIF, fontsize=21, va='baseline')
    tail_label(ax, name)


def sector_panel(ax, vals, err, mean, tag, name):
    ax.axhline(mean, color='black', lw=1.1, dashes=(7, 3.5), zorder=1)
    ax.errorbar(sic_codes, vals, yerr=err, fmt='o', color='black', ms=8,
                elinewidth=1.0, capsize=0, zorder=2)
    ax.set_xlim(0, 9000)
    ax.xaxis.set_major_locator(MultipleLocator(2000))
    ax.xaxis.set_minor_locator(MultipleLocator(1000))
    style(ax)
    ax.set_xlabel('Industry sector (SIC) code', family=SERIF, fontsize=21, labelpad=0)
    ax.text(0.072, 0.12, tag + ' US stocks', transform=ax.transAxes,
            family=SERIF, fontsize=21, va='baseline')
    tail_label(ax, name)


log_panel(ax_a, log_cap_hill, zeta_hill, hill_fit, '(a)', 'Hill')
log_panel(ax_c, log_cap_ms, zeta_ms, ms_fit, '(c)', 'MS')
sector_panel(ax_b, hill_sector, [hill_err_lo, hill_err_hi], hill_mean, '(b)', 'Hill')
sector_panel(ax_d, ms_sector, ms_err, ms_mean, '(d)', 'MS')

fig.savefig('out.png', dpi=100)
